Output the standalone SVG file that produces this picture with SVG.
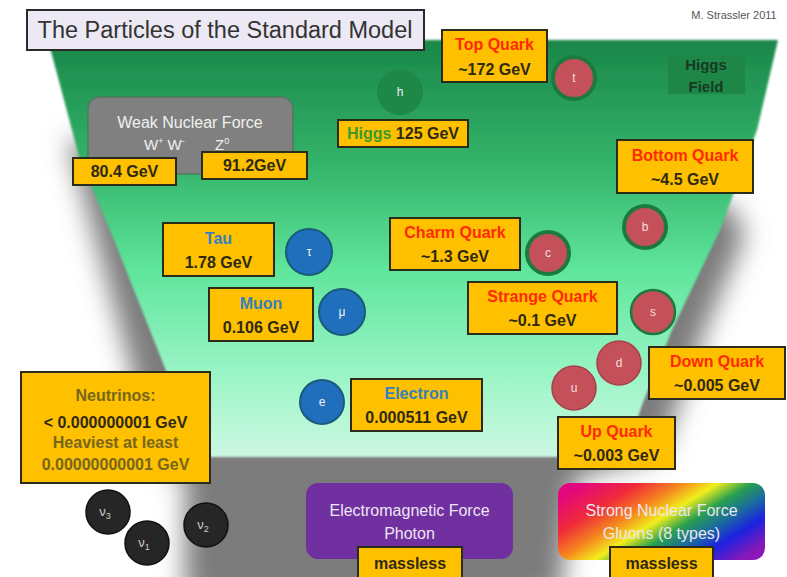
<svg xmlns="http://www.w3.org/2000/svg" width="787" height="577" viewBox="0 0 787 577">
<defs>
<linearGradient id="green" x1="0" y1="40" x2="0" y2="457" gradientUnits="userSpaceOnUse">
<stop offset="0" stop-color="#1a874a"/>
<stop offset="0.3" stop-color="#34b46a"/>
<stop offset="0.55" stop-color="#5fe59c"/>
<stop offset="0.8" stop-color="#9af5c6"/>
<stop offset="1" stop-color="#cdf8e3"/>
</linearGradient>
<linearGradient id="rainbow" x1="0" y1="0.2" x2="1" y2="0.8">
<stop offset="0" stop-color="#e4067e"/>
<stop offset="0.2" stop-color="#ef2a3a"/>
<stop offset="0.35" stop-color="#f5841e"/>
<stop offset="0.48" stop-color="#f2ee1c"/>
<stop offset="0.6" stop-color="#28a04e"/>
<stop offset="0.72" stop-color="#1a6aa0"/>
<stop offset="0.84" stop-color="#1b22e0"/>
<stop offset="1" stop-color="#8a18b8"/>
</linearGradient>
<filter id="blur" x="-30%" y="-30%" width="160%" height="160%"><feGaussianBlur stdDeviation="13"/></filter>
<filter id="soft" x="-5%" y="-5%" width="110%" height="110%"><feGaussianBlur stdDeviation="1"/></filter>
<style>
text{font-family:'Liberation Sans',Arial,sans-serif}
.box{fill:#ffc000;stroke:#2b2b1a;stroke-width:2}
.lbl{font-size:16px;font-weight:bold;text-anchor:middle;fill:#2e2a12}
.red{fill:#ff2a00}
.blue{fill:#3481bd}
.olive{fill:#76661c}
.quark{fill:#c4505a}
.ring{stroke:#1d7a3e;stroke-width:4}
.thin{stroke:#a8404a;stroke-width:1.5}
.lepton{fill:#1f6fbd;stroke:#1a5a7a;stroke-width:2}
.nu{fill:#262626;stroke:#111;stroke-width:1.5}
.ctext{font-size:12px;text-anchor:middle;fill:#f4dede}
.wtext{font-size:12px;text-anchor:middle;fill:#f2f2f2}
.force{font-size:16px;text-anchor:middle;fill:#eee6f4}
</style>
</defs>
<rect x="0" y="0" width="787" height="577" fill="#ffffff"/>
<g id="background">
<polygon points="68,140 130,363 150,457 185,475 185,600 560,600 575,478 660,455 705,330 745,235 730,205 400,160" fill="#7c7c7c" filter="url(#blur)"/>
<polygon points="48,40 778,40 757,130 720,230 672,330 642,405 625,457 200,457 163,363 112,235 80,160" fill="url(#green)" filter="url(#soft)"/>
</g>
<g id="title">
<rect x="27" y="10" width="397" height="40" fill="#ece9f4" stroke="#2a2a2a" stroke-width="2"/>
<text x="225" y="38" font-size="23.5" text-anchor="middle" fill="#333333">The Particles of the Standard Model</text>
</g>
<g id="credit">
<text x="734" y="19" font-size="11" text-anchor="middle" fill="#555555">M. Strassler  2011</text>
</g>
<g id="higgs-field">
<rect x="668" y="56" width="77" height="38" fill="#1e8748"/>
<text x="706" y="70" font-size="15" font-weight="bold" text-anchor="middle" fill="#173a22">Higgs</text>
<text x="706" y="92" font-size="15" font-weight="bold" text-anchor="middle" fill="#173a22">Field</text>
</g>
<g id="weak-force">
<rect x="88" y="97" width="205" height="77" rx="12" fill="#808080" stroke="#4f7a5c" stroke-width="1.5"/>
<text x="190" y="128" font-size="16" text-anchor="middle" fill="#f0f0f0">Weak Nuclear Force</text>
<text x="144" y="150" font-size="15" fill="#f0f0f0">W<tspan font-size="9" dy="-6">+</tspan><tspan dy="6"> W</tspan><tspan font-size="9" dy="-6">-</tspan></text>
<text x="215" y="150" font-size="15" fill="#f0f0f0">Z<tspan font-size="9" dy="-6">0</tspan></text>
</g>
<g id="w-mass">
<rect class="box" x="73" y="158" width="103" height="27"/>
<text class="lbl" x="124.5" y="177">80.4 GeV</text>
</g>
<g id="z-mass">
<rect class="box" x="202" y="152" width="105" height="27"/>
<text class="lbl" x="254.5" y="171">91.2GeV</text>
</g>
<g id="higgs">
<circle cx="400" cy="92" r="23" fill="#1d8848"/>
<text class="wtext" x="400" y="96">h</text>
<rect class="box" x="338" y="120" width="130" height="27"/>
<text class="lbl" x="403" y="139"><tspan fill="#3c9a2c">Higgs</tspan> 125 GeV</text>
</g>
<g id="top-quark">
<rect class="box" x="442" y="30" width="105" height="52"/>
<text class="lbl red" x="494.5" y="50">Top Quark</text>
<text class="lbl" x="494.5" y="75">~172 GeV</text>
<circle class="quark ring" cx="574" cy="78" r="21"/>
<text class="ctext" x="574" y="82">t</text>
</g>
<g id="bottom-quark">
<rect class="box" x="617" y="140" width="136" height="53"/>
<text class="lbl red" x="685" y="161">Bottom Quark</text>
<text class="lbl" x="685" y="185">~4.5 GeV</text>
<circle class="quark ring" cx="645" cy="227" r="21"/>
<text class="ctext" x="645" y="231">b</text>
</g>
<g id="charm-quark">
<rect class="box" x="390" y="218" width="130" height="52"/>
<text class="lbl red" x="455" y="238">Charm Quark</text>
<text class="lbl" x="455" y="262">~1.3 GeV</text>
<circle class="quark ring" cx="548" cy="253" r="21"/>
<text class="ctext" x="548" y="257">c</text>
</g>
<g id="strange-quark">
<rect class="box" x="468" y="282" width="149" height="52"/>
<text class="lbl red" x="542.5" y="302">Strange Quark</text>
<text class="lbl" x="542.5" y="326">~0.1 GeV</text>
<circle class="quark" cx="653" cy="312" r="22" stroke="#1d7a3e" stroke-width="2.5"/>
<text class="ctext" x="653" y="316">s</text>
</g>
<g id="down-quark">
<circle class="quark thin" cx="619" cy="363" r="22"/>
<text class="ctext" x="619" y="367">d</text>
<rect class="box" x="649" y="347" width="136" height="52"/>
<text class="lbl red" x="717" y="367">Down Quark</text>
<text class="lbl" x="717" y="391">~0.005 GeV</text>
</g>
<g id="up-quark">
<circle class="quark thin" cx="574" cy="388" r="22"/>
<text class="ctext" x="574" y="392">u</text>
<rect class="box" x="558" y="417" width="117" height="52"/>
<text class="lbl red" x="616.5" y="437">Up Quark</text>
<text class="lbl" x="616.5" y="461">~0.003 GeV</text>
</g>
<g id="tau">
<rect class="box" x="163" y="223" width="111" height="53"/>
<text class="lbl blue" x="218.5" y="244">Tau</text>
<text class="lbl" x="218.5" y="268">1.78 GeV</text>
<circle class="lepton" cx="309" cy="252" r="23"/>
<text class="wtext" x="309" y="256">τ</text>
</g>
<g id="muon">
<rect class="box" x="209" y="288" width="104" height="53"/>
<text class="lbl blue" x="261" y="309">Muon</text>
<text class="lbl" x="261" y="333">0.106 GeV</text>
<circle class="lepton" cx="342" cy="312" r="23"/>
<text class="wtext" x="342" y="316">μ</text>
</g>
<g id="electron">
<circle class="lepton" cx="322" cy="402" r="22"/>
<text class="wtext" x="322" y="406">e</text>
<rect class="box" x="351" y="379" width="131" height="52"/>
<text class="lbl blue" x="416.5" y="399">Electron</text>
<text class="lbl" x="416.5" y="423">0.000511 GeV</text>
</g>
<g id="neutrinos">
<rect class="box" x="21" y="372" width="189" height="111"/>
<text class="lbl olive" x="115.5" y="401">Neutrinos:</text>
<text class="lbl" x="115.5" y="428" font-size="17">&lt; 0.000000001 GeV</text>
<text class="lbl olive" x="115.5" y="448" font-size="14">Heaviest at least</text>
<text class="lbl olive" x="115.5" y="470" font-size="14">0.00000000001 GeV</text>
</g>
<g id="nu3">
<circle class="nu" cx="108" cy="512" r="22"/>
<text x="105" y="516" font-size="13" text-anchor="middle" fill="#cccccc">ν<tspan font-size="9" dy="3">3</tspan></text>
</g>
<g id="nu1">
<circle class="nu" cx="147" cy="543" r="22"/>
<text x="144" y="547" font-size="13" text-anchor="middle" fill="#cccccc">ν<tspan font-size="9" dy="3">1</tspan></text>
</g>
<g id="nu2">
<circle class="nu" cx="206" cy="525" r="22"/>
<text x="203" y="529" font-size="13" text-anchor="middle" fill="#cccccc">ν<tspan font-size="9" dy="3">2</tspan></text>
</g>
<g id="em-force">
<rect x="306" y="483" width="207" height="76" rx="12" fill="#7030a0"/>
<text class="force" x="409.5" y="516">Electromagnetic Force</text>
<text class="force" x="409.5" y="539">Photon</text>
<rect class="box" x="358" y="547" width="104" height="34"/>
<text class="lbl" x="410" y="569">massless</text>
</g>
<g id="strong-force">
<rect x="558" y="483" width="207" height="77" rx="12" fill="url(#rainbow)"/>
<text class="force" x="661.5" y="516" fill="#f2f2f2">Strong Nuclear Force</text>
<text class="force" x="661.5" y="539" fill="#f2f2f2">Gluons (8 types)</text>
<rect class="box" x="610" y="547" width="103" height="34"/>
<text class="lbl" x="661.5" y="569">massless</text>
</g>
<g id="connectors"/>
</svg>
